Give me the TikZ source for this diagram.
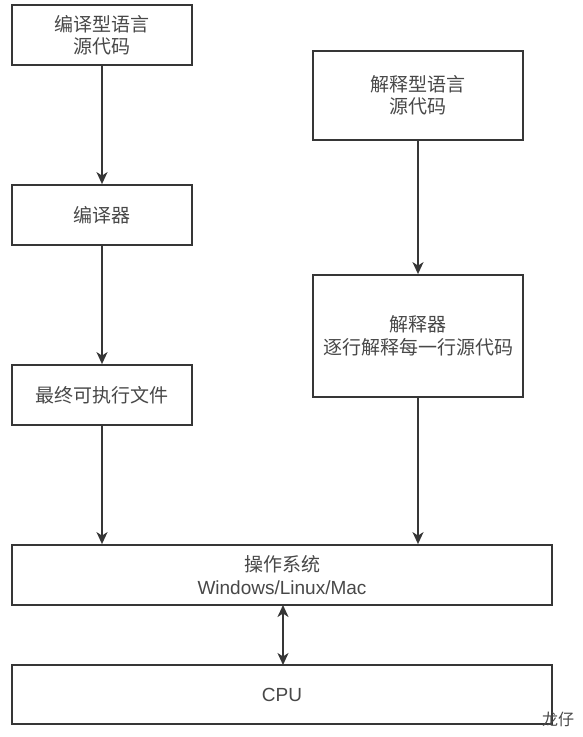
\documentclass[tikz,border=0pt]{standalone}
\usepackage{fontspec}
\setmainfont{Liberation Sans}
\newfontfamily\cjk{Noto Sans CJK SC}
\usetikzlibrary{arrows.meta}
\definecolor{edgecol}{HTML}{363636}
\definecolor{txtcol}{HTML}{484848}
\begin{document}
\begin{tikzpicture}[x=1pt,y=-1pt,
  box/.style={draw=edgecol, line width=1.8pt, fill=white, inner sep=0pt,
    align=center, text=txtcol, font=\fontsize{19}{22.5}\selectfont\cjk},
  flow/.style={draw=edgecol, line width=1.8pt,
    -{Stealth[length=12pt,width=11pt,inset=3.5pt]}},
  both/.style={draw=edgecol, line width=1.8pt,
    {Stealth[length=12pt,width=11pt,inset=3.5pt]}-{Stealth[length=12pt,width=11pt,inset=3.5pt]}}]
\useasboundingbox (0,0) rectangle (583,737);

% compiled-language column
\node[box, minimum width=180pt, minimum height=60pt] (src1) at (102,35) {编译型语言\\源代码};
\node[box, minimum width=180pt, minimum height=60pt] (comp) at (102,215) {编译器};
\node[box, minimum width=180pt, minimum height=60pt] (exe) at (102,395) {最终可执行文件};

% interpreted-language column
\node[box, minimum width=210pt, minimum height=89pt] (src2) at (418,95.5) {解释型语言\\源代码};
\node[box, minimum width=210pt, minimum height=122pt] (interp) at (418,336) {解释器\\逐行解释每一行源代码};

% operating system and hardware
\node[box, minimum width=540pt, minimum height=60pt,
  font=\fontsize{19}{22.5}\selectfont] (os) at (282,575) {{\cjk 操作系统}\\Windows/Linux/Mac};
\node[box, minimum width=540pt, minimum height=59pt,
  font=\fontsize{19}{22.5}\selectfont] (cpu) at (282,694.5) {CPU};

% connectors
\draw[flow] (src1) -- (comp);
\draw[flow] (comp) -- (exe);
\draw[flow] (src2) -- (interp);
\draw[flow] (exe.south) -- (exe.south |- os.north);
\draw[flow] (interp.south) -- (interp.south |- os.north);
\draw[both] (283,605) coordinate (osb) -- (283,665) coordinate (cput);

% signature
\node[text=txtcol, font=\fontsize{16}{16}\selectfont\cjk] (sig) at (558,719) {龙仔};
\end{tikzpicture}
\end{document}
